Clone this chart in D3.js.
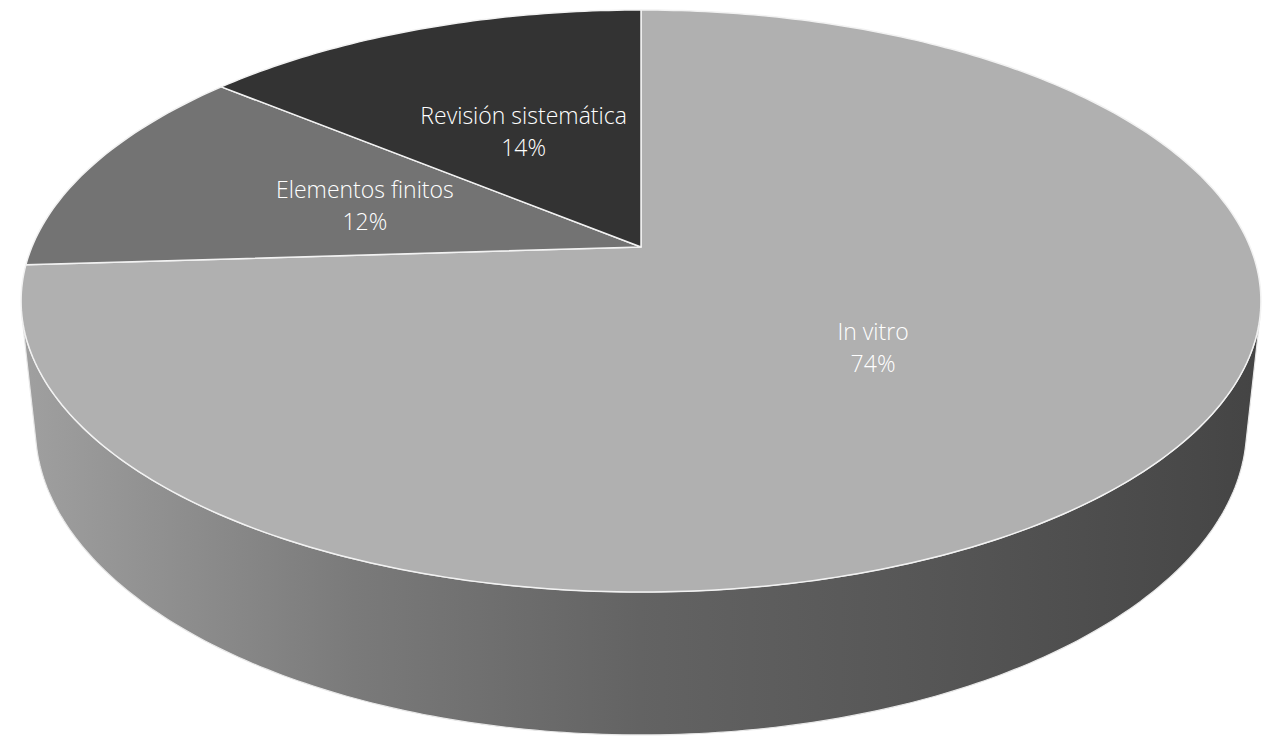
<!DOCTYPE html>
<html>
<head>
<meta charset="utf-8">
<script src="https://cdn.jsdelivr.net/npm/d3@7"></script>
<style>
  html, body { margin: 0; padding: 0; background: #ffffff; }
  svg { display: block; }
</style>
</head>
<body>
<svg id="chart" width="1262" height="737"></svg>
<script>
// ---- data ----
const categories = ["In vitro", "Elementos finitos", "Revisión sistemática"];
const values = [74, 12, 14];
const percentLabels = ["74%", "12%", "14%"];
const topColors = ["#b0b0b0", "#737373", "#333333"];

// ---- camera for the 3D pie ----
const sinP = 0.4613, cosP = 0.8873;
const L = 4.781, F = 2912.6;
const cx = 641, cy = 247;
const depth = 0.2359;
const camH = L * sinP, camD = L * cosP;

function proj(u, v, yw) {
  const rx = u, ry = yw - camH, rz = v + camD;
  const zc = -ry * sinP + rz * cosP;
  const yc = ry * cosP + rz * sinP;
  return [cx + F * rx / zc, cy - F * yc / zc];
}
// angle a: clockwise from 12 o'clock (d3.pie convention)
function pt(a, r, yw) { return proj(r * Math.sin(a), r * Math.cos(a), yw); }

const svg = d3.select("#chart");
const defs = svg.append("defs");
const grad = defs.append("linearGradient")
  .attr("id", "side").attr("gradientUnits", "userSpaceOnUse")
  .attr("x1", 20).attr("x2", 1260).attr("y1", 0).attr("y2", 0);
[[0, "#a0a0a0"], [0.05, "#999999"], [0.27, "#7a7a7a"], [0.5, "#636363"], [0.75, "#555555"], [0.95, "#484848"], [1, "#444444"]]
  .forEach(([o, c]) => grad.append("stop").attr("offset", o).attr("stop-color", c));

const pie = d3.pie().sort(null).value(d => d).startAngle(0).endAngle(2 * Math.PI);
const arcs = pie(values);

// visible side: angles where v < -1/camD
const vis = Math.acos(-1 / camD);
const visStart = vis, visEnd = 2 * Math.PI - vis;

const line = d3.line();
const N = 200;

// side walls
arcs.forEach((d, i) => {
  const a0 = Math.max(d.startAngle, visStart), a1 = Math.min(d.endAngle, visEnd);
  if (a1 <= a0) return;
  const topPts = [], botPts = [];
  for (let j = 0; j <= N; j++) {
    const a = a0 + (a1 - a0) * j / N;
    topPts.push(pt(a, 1, 0));
    botPts.push(pt(a, 1, -depth));
  }
  const poly = topPts.concat(botPts.reverse());
  svg.append("path")
    .attr("d", line(poly) + "Z")
    .attr("fill", "url(#side)")
    .attr("stroke", "#e8e8e8").attr("stroke-width", 1.2).attr("stroke-linejoin", "round");
});

// top face slices
arcs.forEach((d, i) => {
  const pts = [pt(0, 0, 0)];
  const n = Math.max(20, Math.round(N * (d.endAngle - d.startAngle) / Math.PI));
  for (let j = 0; j <= n; j++) {
    const a = d.startAngle + (d.endAngle - d.startAngle) * j / n;
    pts.push(pt(a, 1, 0));
  }
  svg.append("path")
    .attr("d", line(pts) + "Z")
    .attr("fill", topColors[i])
    .attr("stroke", "#f2f2f2").attr("stroke-width", 1.5).attr("stroke-linejoin", "round");
});

// labels
const fontFam = "'Open Sans', 'Noto Sans', sans-serif";
arcs.forEach((d, i) => {
  const mid = (d.startAngle + d.endAngle) / 2;
  const [lx, ly] = pt(mid, 0.49, 0);
  const g = svg.append("g").attr("transform", `translate(${lx},${ly})`);
  g.append("text").attr("x", 0).attr("y", -8)
    .attr("text-anchor", "middle").attr("fill", "#ffffff")
    .attr("font-family", fontFam).attr("font-size", 23).attr("font-weight", 300)
    .text(categories[i]);
  g.append("text").attr("x", 0).attr("y", 24)
    .attr("text-anchor", "middle").attr("fill", "#ffffff")
    .attr("font-family", fontFam).attr("font-size", 23).attr("font-weight", 300)
    .text(percentLabels[i]);
});
</script>
</body>
</html>
